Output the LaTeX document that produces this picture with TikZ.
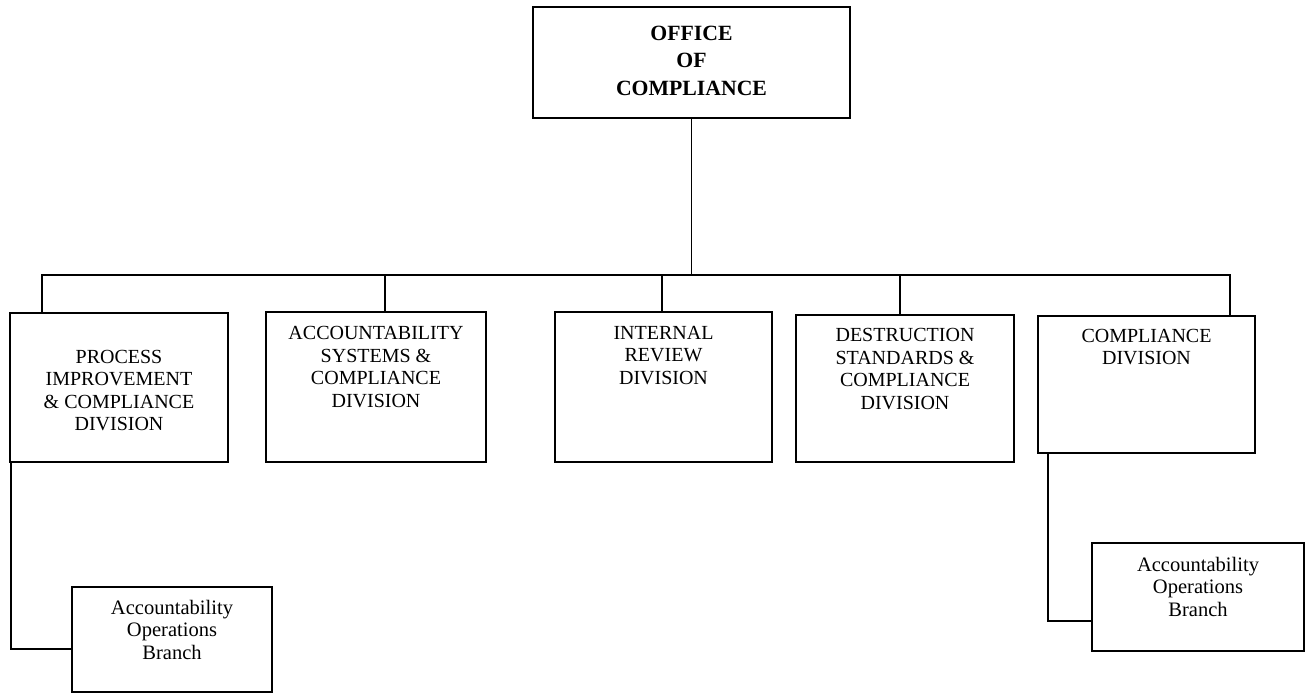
\documentclass[tikz,border=0pt]{standalone}
\usepackage{fontspec}
\setmainfont{Liberation Serif}
\begin{document}
\begin{tikzpicture}[x=0.75pt,y=-0.75pt,
  box/.style={draw, line width=1.2pt, inner sep=0pt, outer sep=0pt},
  headtext/.style={align=center, inner sep=0pt, font=\fontsize{16.3}{20.6}\selectfont\bfseries},
  divtext/.style={align=center, inner sep=0pt, font=\fontsize{15}{16.9}\selectfont},
  branchtext/.style={align=center, inner sep=0pt, font=\fontsize{15.4}{16.9}\selectfont},
  link/.style={line width=1.2pt, line join=miter}]
\useasboundingbox[fill=white] (0,0) rectangle (1309,694);

% boxes
\node[box, minimum width=237.75pt, minimum height=83.25pt] (top) at (691.5,62.5) {};
\node[box, minimum width=163.5pt,  minimum height=111.75pt] (b1) at (119,387.5) {};
\node[box, minimum width=165pt,    minimum height=112.5pt]  (b2) at (376,387) {};
\node[box, minimum width=162.75pt, minimum height=112.5pt]  (b3) at (663.5,387) {};
\node[box, minimum width=163.5pt,  minimum height=110.25pt] (b4) at (905,388.5) {};
\node[box, minimum width=162.75pt, minimum height=102.75pt] (b5) at (1146.5,384.5) {};
\node[box, minimum width=150pt,    minimum height=78.75pt]  (bl) at (172,639.5) {};
\node[box, minimum width=159pt,    minimum height=81pt]     (br) at (1198,597) {};

% labels
\node[headtext] (ttop) at (691.5,60.5) {OFFICE\\OF\\COMPLIANCE};
\node[divtext] (t1) at (119,390.5) {PROCESS\\IMPROVEMENT\\\& COMPLIANCE\\DIVISION};
\node[divtext] (t2) at (376,367) {ACCOUNTABILITY\\SYSTEMS \&\\COMPLIANCE\\DIVISION};
\node[divtext] (t3) at (663.5,355.5) {INTERNAL\\REVIEW\\DIVISION};
\node[divtext] (t4) at (905,369) {DESTRUCTION\\STANDARDS \&\\COMPLIANCE\\DIVISION};
\node[divtext] (t5) at (1146.5,347) {COMPLIANCE\\DIVISION};
\node[branchtext] (tl) at (172,629.5) {Accountability\\Operations\\Branch};
\node[branchtext] (tr) at (1198,586.5) {Accountability\\Operations\\Branch};

% bus and drops
\coordinate (busL) at (42,275);
\coordinate (busR) at (1230,275);
\coordinate (d2) at (385,275);
\coordinate (d3) at (662,275);
\coordinate (d4) at (900,275);
\draw[link] (top.south) -- (top.south |- busL);
\draw[link] (b1.north -| busL) -- (busL) -- (busR) -- (busR |- b5.north);
\draw[link] (d2) -- (d2 |- b2.north);
\draw[link] (d3) -- (d3 |- b3.north);
\draw[link] (d4) -- (d4 |- b4.north);

% branch connectors
\coordinate (k1) at (11,649);
\coordinate (k2) at (1048,621);
\draw[link] (k1 |- b1.south) -- (k1) -- (k1 -| bl.west);
\draw[link] (k2 |- b5.south) -- (k2) -- (k2 -| br.west);
\end{tikzpicture}
\end{document}
